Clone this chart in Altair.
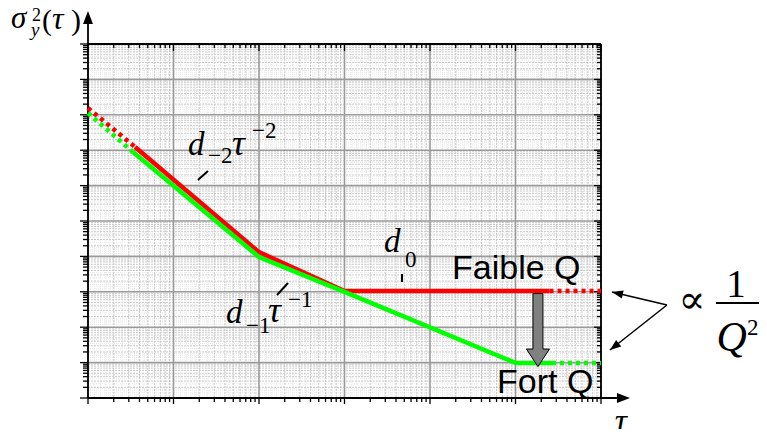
import altair as alt
import pandas as pd

# ---------------- data ----------------
# red curve (low Q): tau values and Allan variance values at the break points
tau_red = [1, 3.55, 100, 1000, 2.5e5, 1e6]
sig_red = [1.55e8, 1.23e7, 1.32e4, 1.05e3, 1.05e3, 1.05e3]
# green curve (high Q)
tau_green = [1, 3.36, 100, 1000, 1.01e5, 2.67e5, 1e6]
sig_green = [1.12e8, 8.9e6, 9.6e3, 1.0e3, 9.7, 9.7, 9.7]

# log-paper grid
x_decades = [1, 1e1, 1e2, 1e3, 1e4, 1e5, 1e6]
y_decades = [1, 1e1, 1e2, 1e3, 1e4, 1e5, 1e6, 1e7, 1e8, 1e9, 1e10]
minor_steps = [2, 3, 4, 5, 6, 7, 8, 9]
fine_steps = [1.2, 1.4, 1.6, 1.8, 2.5, 3.5, 4.5]

# ---------------- layout / style ----------------
W, H = 513, 354
SERIF = "'Liberation Serif', 'Times New Roman', 'DejaVu Serif', serif"
SANS = "'Liberation Sans', Arial, sans-serif"
xs = alt.Scale(type="log", domain=[1, 1e6], nice=False)
ys = alt.Scale(type="log", domain=[1, 1e10], nice=False)


def X(f="t"):
    return alt.X(f"{f}:Q", scale=xs, axis=None)


def Y(f="s"):
    return alt.Y(f"{f}:Q", scale=ys, axis=None)


def sub(decades, steps):
    return [d * m for d in decades[:-1] for m in steps]


x_minor, y_minor = sub(x_decades, minor_steps), sub(y_decades, minor_steps)
x_fine, y_fine = sub(x_decades, fine_steps), sub(y_decades, fine_steps)

layers = []


def vgrid(vals, **kw):
    return alt.Chart(pd.DataFrame({"t": vals})).mark_rule(**kw).encode(
        x=X(), y=alt.value(0), y2=alt.value(H))


def hgrid(vals, **kw):
    return alt.Chart(pd.DataFrame({"s": vals})).mark_rule(**kw).encode(
        y=Y(), x=alt.value(0), x2=alt.value(W))


fine_kw = dict(color="#e2e2e2", strokeWidth=0.8, strokeDash=[1, 1])
minor_kw = dict(color="#c4c4c4", strokeWidth=0.9, strokeDash=[2, 1])
major_kw = dict(color="#9a9a9a", strokeWidth=1.6)
layers += [vgrid(x_fine, **fine_kw), hgrid(y_fine, **fine_kw),
           vgrid(x_minor, **minor_kw), hgrid(y_minor, **minor_kw),
           vgrid(x_decades, **major_kw), hgrid(y_decades, **major_kw)]

# ticks: left & bottom outward, top & right inward
tick_kw = dict(color="black", strokeWidth=1.3)


def ticks(xv, yv, big):
    lx, lb, lt, lr = (8, 6, 7, 7) if big else (5, 4, 4, 4)
    dx = pd.DataFrame({"t": xv})
    dy = pd.DataFrame({"s": yv})
    return [
        alt.Chart(dx).mark_rule(**tick_kw).encode(x=X(), y=alt.value(H), y2=alt.value(H + lb)),
        alt.Chart(dx).mark_rule(**tick_kw).encode(x=X(), y=alt.value(0), y2=alt.value(lt)),
        alt.Chart(dy).mark_rule(**tick_kw).encode(y=Y(), x=alt.value(0), x2=alt.value(-lx)),
        alt.Chart(dy).mark_rule(**tick_kw).encode(y=Y(), x=alt.value(W), x2=alt.value(W - lr)),
    ]


layers += ticks(x_minor, y_minor, False) + ticks(x_decades, y_decades, True)


def seg(t1, s1, t2, s2, color="black", width=1.8):
    df = pd.DataFrame({"t": [t1], "s": [s1], "t2": [t2], "s2": [s2]})
    return alt.Chart(df).mark_rule(color=color, strokeWidth=width).encode(
        x=X(), y=Y(), x2="t2:Q", y2="s2:Q")


HEAD = "M 0 0 L 0.38 1 L -0.38 1 Z"


def head(t, s, angle, size):
    df = pd.DataFrame({"t": [t], "s": [s]})
    return alt.Chart(df).mark_point(shape=HEAD, filled=True, fill="black", strokeWidth=0,
                                    opacity=1, size=size, angle=angle).encode(x=X(), y=Y())


# frame (top / right) and axes with arrows
layers += [seg(1, 1e10, 1e6, 1e10), seg(1e6, 1, 1e6, 1e10),
           seg(1, 1, 1, 4.76e10), seg(1, 1, 1.67e6, 1),
           head(1, 8.55e10, 0, 676), head(2.18e6, 1, 90, 676)]


# curves
def curve(taus, sigs, color, dash=None):
    df = pd.DataFrame({"t": taus, "s": sigs, "o": list(range(len(taus)))})
    kw = dict(color=color, strokeWidth=4.5, strokeJoin="miter", clip=False)
    if dash:
        kw["strokeDash"] = dash
    return alt.Chart(df).mark_line(**kw).encode(x=X(), y=Y(), order="o:Q")


DOT = [4, 4]
layers += [
    curve(tau_red[0:2], sig_red[0:2], "#ff0000", DOT),
    curve(tau_red[1:5], sig_red[1:5], "#ff0000"),
    curve(tau_red[4:6], sig_red[4:6], "#ff0000", DOT),
    curve(tau_green[0:2], sig_green[0:2], "#00ff00", DOT),
    curve(tau_green[1:6], sig_green[1:6], "#00ff00"),
    curve(tau_green[5:7], sig_green[5:7], "#00ff00", DOT),
]

# grey block arrow (Faible Q -> Fort Q)
ARROW = "M -0.137 -1 L 0.137 -1 L 0.137 0.52 L 0.315 0.52 L 0 1 L -0.315 0.52 L -0.137 0.52 Z"
layers.append(
    alt.Chart(pd.DataFrame({"t": [1.83e5], "s": [83]})).mark_point(
        shape=ARROW, filled=True, fill="#808080", stroke="black", strokeWidth=1,
        opacity=1, size=5329).encode(x=X(), y=Y()))

# arrows pointing to the two plateaus
layers += [seg(5.91e6, 424, 1.345e6, 987, width=1.5), seg(5.91e6, 424, 1.274e6, 22.7, width=1.5),
           head(1.345e6, 987, 283, 484), head(1.274e6, 22.7, 232, 484)]

# leader strokes for the formula labels
layers += [seg(19.3, 1.44e6, 25.3, 2.58e6, width=2), seg(162.4, 812, 218.3, 1774, width=2),
           seg(4707, 3.18e3, 4707, 1.89e3, width=2)]
# fraction bar
layers.append(seg(2.21e7, 483, 7.05e7, 483, width=2))


def label(text, t, s, size, italic=False, family=SERIF, align="left"):
    df = pd.DataFrame({"t": [t], "s": [s], "txt": [text]})
    kw = dict(font=family, fontSize=size, align=align, baseline="alphabetic", color="black")
    if italic:
        kw["fontStyle"] = "italic"
    return alt.Chart(df).mark_text(**kw).encode(x=X(), y=Y(), text="txt:N")


layers += [
    # sigma_y^2(tau)
    label("σ", 0.1257, 2.83e10, 31, True),
    label("y", 0.2154, 1.68e10, 19, True),
    label("2", 0.2213, 4.5e10, 18),
    label("(", 0.290, 2.48e10, 30),
    label("τ", 0.379, 2.65e10, 32, True),
    label(")", 0.633, 2.48e10, 30),
    # d_-2 tau^-2
    label("d", 14.8, 7.31e6, 33, True),
    label("−2", 25.3, 4.35e6, 23),
    label("τ", 48.3, 7.31e6, 36, True),
    label("−2", 82.8, 2.21e7, 23),
    # d_0
    label("d", 2897, 1.33e4, 33, True),
    label("0", 5102, 5.02e3, 23),
    # d_-1 tau^-1
    label("d", 41.1, 131.5, 33, True),
    label("−1", 70.5, 68.6, 23),
    label("τ", 127.4, 140.3, 36, True),
    label("−1", 218.3, 372, 23),
    # Q labels
    label("Faible Q", 1.81e4, 2300, 34, family=SANS),
    label("Fort Q", 6.08e4, 1.38, 34, family=SANS),
    # proportional to 1/Q^2
    label("∝", 1.16e7, 252, 40, align="center"),
    label("1", 3.79e7, 713, 39, align="center"),
    label("Q", 2.25e7, 21.3, 42, True),
    label("2", 5.1e7, 60.2, 23),
    # axis label tau
    label("τ", 1.71e6, 0.1096, 34, True, align="center"),
]

chart = alt.layer(*layers).properties(
    width=W, height=H,
    autosize=alt.AutoSizeParams(type="none"),
    padding={"left": 80, "top": 36, "right": 158, "bottom": 31},
).configure_view(strokeWidth=0)

chart.save("out.html", embed_options={"renderer": "svg", "actions": False})
